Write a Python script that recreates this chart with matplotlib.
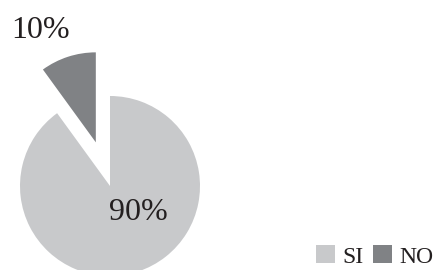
import matplotlib
matplotlib.use("Agg")
import matplotlib.pyplot as plt
from matplotlib.patches import Patch

labels = ["SI", "NO"]
values = [90, 10]
colors = ["#c8c9cb", "#808285"]
label_pos = [(0.31, -0.29), (-0.77, 1.73)]

plt.rcParams["font.family"] = ["Liberation Serif", "DejaVu Serif"]

fig = plt.figure(figsize=(4.37, 2.70), dpi=100)
ax = fig.add_axes([0, 0, 1, 1])

wedges, _ = ax.pie(values, colors=colors, explode=[0, 0.51], startangle=90,
                   counterclock=False, radius=1, wedgeprops=dict(linewidth=0))

for v, (x, y) in zip(values, label_pos):
    ax.text(x, y, f"{v}%", fontsize=23, color="#231f20", ha="center", va="center")

ax.set_xlim(-110 / 90, (437 - 110) / 90)
ax.set_ylim(-(270 - 186) / 90, 186 / 90)
ax.set_aspect("equal", adjustable="box")
ax.axis("off")

handles = [Patch(facecolor=c, edgecolor="none") for c in colors]
fig.legend(handles, labels, loc="lower right", bbox_to_anchor=(1.018, -0.035), ncol=2,
           frameon=False, fontsize=17, handlelength=0.8, handleheight=0.8,
           handletextpad=0.3, columnspacing=0.4, borderaxespad=0.1,
           labelcolor="#231f20")

fig.savefig("out.png", dpi=100)
